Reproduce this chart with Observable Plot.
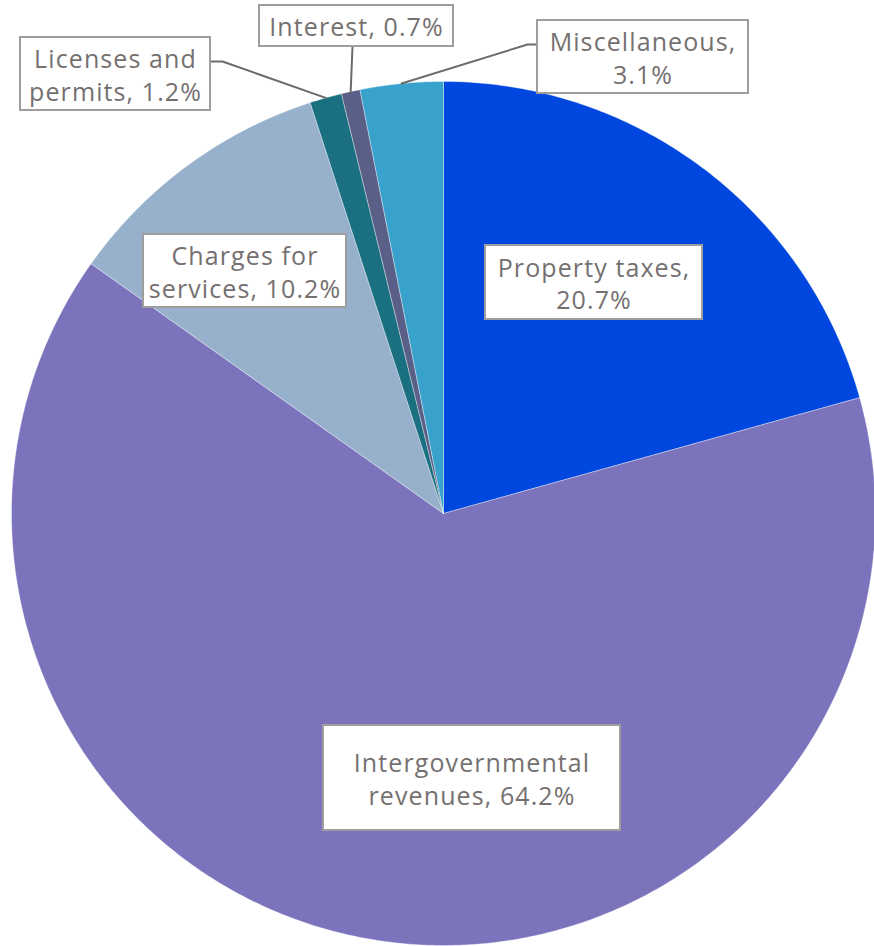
<!DOCTYPE html>
<html>
<head>
<meta charset="utf-8">
<script src="https://cdn.jsdelivr.net/npm/d3@7"></script>
<script src="https://cdn.jsdelivr.net/npm/@observablehq/plot@0.6"></script>
<style>
  html, body { margin: 0; padding: 0; background: #ffffff; }
  #chart { width: 874px; height: 946px; }
  .pie-labels text { letter-spacing: 1.1px; }
</style>
</head>
<body>
<div id="chart"></div>
<script>
// ---- Data ----
const names = ["Property taxes", "Intergovernmental revenues", "Charges for services", "Licenses and permits", "Interest", "Miscellaneous"];
const shares = [20.7, 64.2, 10.2, 1.2, 0.7, 3.1];
const colors = ["#0047E0", "#7B74BC", "#97B1CC", "#1A7080", "#5A5F87", "#38A1CC"];
const labelTexts = ["Property taxes,\n20.7%", "Intergovernmental\nrevenues, 64.2%", "Charges for\nservices, 10.2%", "Licenses and\npermits, 1.2%", "Interest, 0.7%", "Miscellaneous,\n3.1%"];

// ---- Layout (pixels) ----
const W = 874, H = 946, CX = 443, CY = 513, R = 432;
const boxes = [
  [485, 245, 702, 319],
  [323, 725, 620, 830],
  [143, 234, 346, 307],
  [20, 37, 210, 110],
  [259, 5, 453, 46],
  [537, 20, 748, 93]
];
// leader elbows (pixels), null = none; last point is computed at slice mid-angle on the rim
const elbows = [
  null, null, null,
  [[210, 61], [222, 61]],
  [[352, 46]],
  [[537, 44], [527, 44]]
];

const px = v => (v - CX) / R;
const py = v => (CY - v) / R;

const total = d3.sum(shares);
let cum = 0;
const slicePts = [];
const mids = [];
shares.forEach((s, i) => {
  const a0 = cum / total * 2 * Math.PI;
  cum += s;
  const a1 = cum / total * 2 * Math.PI;
  mids.push((a0 + a1) / 2);
  const n = Math.max(4, Math.ceil(s * 6));
  slicePts.push({name: names[i], x: 0, y: 0});
  for (let k = 0; k <= n; k++) {
    const a = a0 + (a1 - a0) * k / n;
    slicePts.push({name: names[i], x: Math.sin(a), y: Math.cos(a)});
  }
  slicePts.push({name: names[i], x: 0, y: 0});
});

const labels = names.map((n, i) => {
  const [x1, y1, x2, y2] = boxes[i];
  return {name: n, text: labelTexts[i], x1: px(x1), x2: px(x2), y1: py(y1), y2: py(y2), cx: px((x1 + x2) / 2), cy: py((y1 + y2) / 2)};
});

const leaderPts = [];
elbows.forEach((e, i) => {
  if (!e) return;
  e.forEach(([x, y]) => leaderPts.push({id: i, x: px(x), y: py(y)}));
  leaderPts.push({id: i, x: Math.sin(mids[i]), y: Math.cos(mids[i])});
});

const FONT = "'Open Sans', 'DejaVu Sans', sans-serif";

const chart = Plot.plot({
  width: W,
  height: H,
  margin: 0,
  x: {domain: [-1, 1], range: [CX - R, CX + R], axis: null},
  y: {domain: [-1, 1], range: [CY + R, CY - R], axis: null},
  color: {domain: names, range: colors},
  style: {background: "#ffffff", fontFamily: FONT},
  marks: [
    Plot.line(slicePts, {x: "x", y: "y", z: "name", fill: "name", stroke: "#ffffff", strokeWidth: 0.6, strokeOpacity: 0.6, curve: "linear"}),
    Plot.line(leaderPts, {x: "x", y: "y", z: "id", stroke: "#6E6A6A", strokeWidth: 2}),
    Plot.rect(labels, {x1: "x1", x2: "x2", y1: "y1", y2: "y2", fill: "#ffffff", stroke: "#A09D9D", strokeWidth: 2}),
    Plot.text(labels, {x: "cx", y: "cy", text: "text", fontSize: 25, lineHeight: 1.3, fill: "#757070", fontFamily: FONT, textAnchor: "middle", lineAnchor: "middle", className: "pie-labels"})
  ]
});
document.getElementById("chart").appendChild(chart);
</script>
</body>
</html>
